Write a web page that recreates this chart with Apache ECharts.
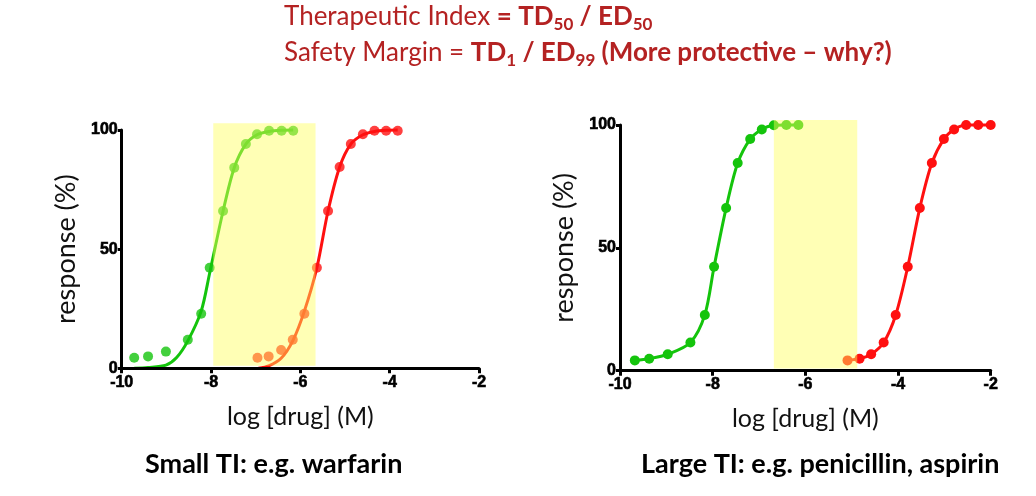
<!DOCTYPE html>
<html>
<head>
<meta charset="utf-8">
<script src="https://cdn.jsdelivr.net/npm/echarts@6/dist/echarts.min.js"></script>
<style>
  html, body { margin: 0; padding: 0; background: #fff; }
  #chart { width: 1036px; height: 496px; }
</style>
</head>
<body>
<div id="chart"></div>
<script>
// axis ticks
var xMin = -10, xMax = -2, xStep = 2;
var yMin = 0, yMax = 100, yStep = 50;

// small TI (warfarin) - measured points and fitted curves
var smallEdPoints = [[-9.72, 4.4], [-9.41, 5.0], [-9.01, 7.0], [-8.52, 12.0], [-8.22, 22.9], [-8.03, 42.2], [-7.73, 66.0], [-7.48, 84.2], [-7.22, 94.1], [-6.97, 98.2], [-6.70, 99.7], [-6.42, 99.7], [-6.16, 99.7]];
var smallEdCurve = [[-9.72, 0], [-9.41, 0.3], [-9.01, 1.3], [-8.77, 4.5], [-8.52, 11.5], [-8.22, 24], [-8.03, 40], [-7.73, 66.0], [-7.48, 84.2], [-7.22, 94.1], [-6.97, 98.0], [-6.70, 99.4], [-6.42, 99.9], [-6.16, 100]];
var smallTdPoints = [[-6.96, 4.4], [-6.71, 5.0], [-6.43, 7.7], [-6.17, 12.0], [-5.91, 22.9], [-5.63, 42.2], [-5.38, 66.0], [-5.12, 84.5], [-4.87, 94.1], [-4.60, 98.2], [-4.34, 99.7], [-4.08, 99.7], [-3.82, 99.7]];
var smallTdCurve = [[-6.94, 0], [-6.71, 1.0], [-6.43, 4.2], [-6.17, 11.5], [-5.91, 24], [-5.63, 42.2], [-5.38, 66.0], [-5.12, 84.5], [-4.87, 94.1], [-4.60, 98.0], [-4.34, 99.4], [-4.08, 99.9], [-3.82, 100]];
var smallWindow = [[-7.95, -5.66, 1.1, 102.8]];

// large TI (penicillin, aspirin)
var largeEdPoints = [[-9.68, 4.2], [-9.37, 4.9], [-8.97, 6.7], [-8.48, 11.5], [-8.17, 22.7], [-7.97, 42.3], [-7.71, 66.2], [-7.46, 84.5], [-7.19, 94.3], [-6.94, 98.2], [-6.68, 99.9], [-6.41, 100], [-6.15, 100]];
var largeTdPoints = [[-5.09, 4.2], [-4.83, 4.9], [-4.58, 6.7], [-4.31, 11.5], [-4.05, 22.7], [-3.79, 42.3], [-3.53, 66.2], [-3.27, 84.5], [-3.01, 94.3], [-2.79, 98.2], [-2.53, 100], [-2.27, 100], [-2.00, 100]];
var largeWindow = [[-6.68, -4.88, 0.9, 102]];

var GREEN = '#14c40c';
var RED = '#ff1010';
var OVERLAY = 'rgba(255,255,90,0.45)';
var FONT = 'Lato';
var TITLE_RED = '#b42222';

var tickLabel = { fontFamily: 'Liberation Sans', fontWeight: 'bold', fontSize: 16, color: '#000',
  textBorderColor: '#000', textBorderWidth: 0.6 };

function axisX(gridIndex) {
  return {
    type: 'value', gridIndex: gridIndex, min: xMin, max: xMax, interval: xStep, z: 20,
    name: 'log [drug] (M)', nameLocation: 'middle', nameGap: 36,
    nameTextStyle: { fontFamily: FONT, fontSize: 25, color: '#111' },
    axisLine: { lineStyle: { color: '#000', width: 3 } },
    axisTick: { length: 5, lineStyle: { color: '#000', width: 3 } },
    axisLabel: Object.assign({ margin: 6 }, tickLabel),
    splitLine: { show: false }
  };
}
function axisY(gridIndex) {
  return {
    type: 'value', gridIndex: gridIndex, min: yMin, max: yMax, interval: yStep, z: 20,
    name: 'response (%)', nameLocation: 'middle', nameGap: 42,
    nameTextStyle: { fontFamily: FONT, fontSize: 27, color: '#111' },
    axisLine: { show: true, lineStyle: { color: '#000', width: 3 } },
    axisTick: { show: true, length: 4, lineStyle: { color: '#000', width: 3 } },
    axisLabel: Object.assign({ margin: 4 }, tickLabel),
    splitLine: { show: false }
  };
}
function curve(idx, data, color) {
  return {
    type: 'line', xAxisIndex: idx, yAxisIndex: idx, data: data, smooth: 0.3,
    showSymbol: false, clip: false, silent: true, z: 2,
    lineStyle: { color: color, width: 3 }
  };
}
function dots(idx, data, color) {
  return {
    type: 'scatter', xAxisIndex: idx, yAxisIndex: idx, data: data, clip: false, silent: true, z: 2,
    symbol: 'circle', symbolSize: 10, itemStyle: { color: color }
  };
}
function fitLine(idx, data, color) {
  return {
    type: 'line', xAxisIndex: idx, yAxisIndex: idx, data: data, smooth: 0.3,
    symbol: 'circle', symbolSize: 10, showSymbol: true, clip: false, silent: true, z: 2,
    lineStyle: { color: color, width: 3 }, itemStyle: { color: color }
  };
}
function windowBox(idx, data) {
  return {
    type: 'custom', xAxisIndex: idx, yAxisIndex: idx, data: data, silent: true, z: 5,
    encode: { x: [0, 1], y: [2, 3] },
    renderItem: function(params, api) {
      var p1 = api.coord([api.value(0), api.value(3)]);
      var p2 = api.coord([api.value(1), api.value(2)]);
      return { type: 'rect', shape: { x: p1[0], y: p1[1], width: p2[0] - p1[0], height: p2[1] - p1[1] },
        style: { fill: OVERLAY } };
    }
  };
}
var titleRich = {
  n: { fontFamily: FONT, fontSize: 26, fill: TITLE_RED, lineHeight: 32 },
  b: { fontFamily: FONT, fontSize: 26, fontWeight: 'bold', fill: TITLE_RED, lineHeight: 32 },
  s: { fontFamily: FONT, fontSize: 17, fontWeight: 'bold', fill: TITLE_RED, lineHeight: 18, verticalAlign: 'bottom' }
};

var chart = echarts.init(document.getElementById('chart'));
chart.setOption({
  animation: false,
  backgroundColor: '#fff',
  grid: [
    { left: 121.7, right: 557, top: 130, bottom: 127.7, outerBoundsMode: 'none' },
    { left: 620, right: 45.3, top: 125, bottom: 125.3, outerBoundsMode: 'none' }
  ],
  xAxis: [axisX(0), axisX(1)],
  yAxis: [axisY(0), axisY(1)],
  graphic: [
    { type: 'text', left: 284, top: 4, style: {
      text: '{n|Therapeutic Index }{b|= TD}{s|50}{b| / ED}{s|50}', rich: titleRich } },
    { type: 'text', left: 284, top: 40, style: {
      text: '{n|Safety Margin = }{b|TD}{s|1}{b| / ED}{s|99}{b| (More protective \u2013 why?)}', rich: titleRich } },
    { type: 'text', left: 145, top: 451, style: {
      text: 'Small TI: e.g. warfarin', fontFamily: FONT, fontSize: 27, fontWeight: 'bold', fill: '#000' } },
    { type: 'text', left: 641, top: 451, style: {
      text: 'Large TI: e.g. penicillin, aspirin', fontFamily: FONT, fontSize: 27, fontWeight: 'bold', fill: '#000' } }
  ],
  series: [
    curve(0, smallEdCurve, GREEN),
    dots(0, smallEdPoints, GREEN),
    curve(0, smallTdCurve, RED),
    dots(0, smallTdPoints, RED),
    windowBox(0, smallWindow),
    fitLine(1, largeEdPoints, GREEN),
    fitLine(1, largeTdPoints, RED),
    windowBox(1, largeWindow)
  ]
});
</script>
</body>
</html>
